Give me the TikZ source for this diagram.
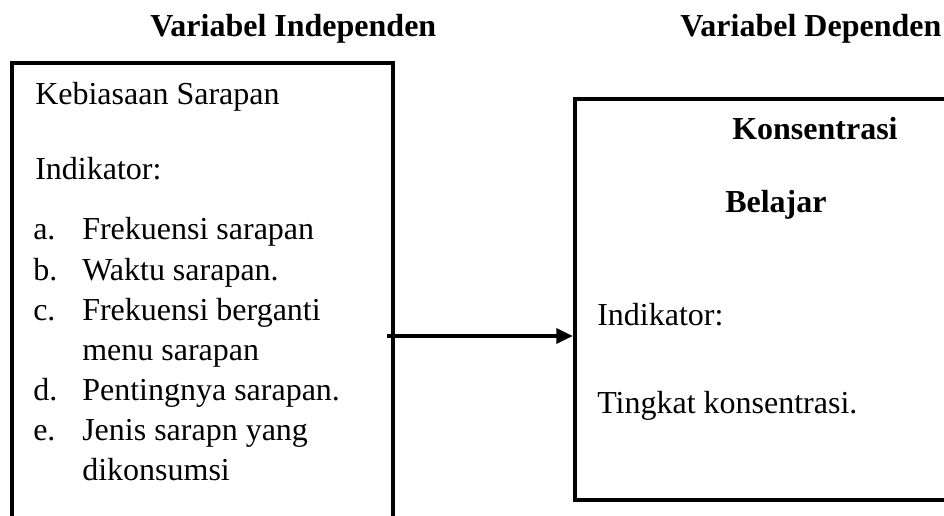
\documentclass[tikz,border=0pt]{standalone}
\usepackage{fontspec}
\setmainfont{Liberation Serif}
\usetikzlibrary{arrows.meta, positioning}
\tikzset{
  txt/.style    = {anchor=base west, inner sep=0pt, font=\fontsize{24}{30}\selectfont},
  hd/.style     = {txt, font=\fontsize{24}{30}\selectfont\bfseries},
  box/.style    = {draw=black, line width=2.8pt, anchor=north west, inner sep=0pt, outer sep=0pt},
  flow/.style   = {-{Triangle[length=12.5pt, width=11pt]}, line width=3.2pt},
}

\begin{document}
\begin{tikzpicture}[x=0.75pt,y=-0.75pt]
  \useasboundingbox (0,0) rectangle (944,516);
  \clip (0,0) rectangle (944,516);
  % headings
  \node[hd] (H1) at (150,37) {Variabel Independen};
  \node[hd] (H2) at (680,37) {Variabel Dependen};
  % boxes
  \node[box, minimum width=285.75pt, minimum height=360pt] (X) at (12,63) {};
  \node[box, minimum width=290pt, minimum height=300.75pt] (Y) at (575,99) {};
  % independent variable
  \node[txt] (X0) at (35,105) {Kebiasaan Sarapan};
  \node[txt] (X1) at (35,180) {Indikator:};
  \node[txt] (La) at (33,240) {a.};
  \node[txt] (Ta) at (82,240) {Frekuensi sarapan};
  \node[txt] (Lb) at (33,280) {b.};
  \node[txt] (Tb) at (82,280) {Waktu sarapan.};
  \node[txt] (Lc) at (33,320) {c.};
  \node[txt] (Tc) at (82,320) {Frekuensi berganti};
  \node[txt] (Tc2) at (82,360) {menu sarapan};
  \node[txt] (Ld) at (33,400) {d.};
  \node[txt] (Td) at (82,400) {Pentingnya sarapan.};
  \node[txt] (Le) at (33,440) {e.};
  \node[txt] (Te) at (82,440) {Jenis sarapn yang};
  \node[txt] (Te2) at (82,480) {dikonsumsi};
  % dependent variable
  \node[hd] (Y0) at (732,140) {Konsentrasi};
  \node[hd] (Y1) at (725,213) {Belajar};
  \node[txt] (Y2) at (597,325) {Indikator:};
  \node[txt] (Y3) at (597,413) {Tingkat konsentrasi.};
  % arrow
  \coordinate (arr) at (0,336);
  \draw[flow, shorten <=-4.5pt, shorten >=1.5pt] (X.east |- arr) -- (Y.west |- arr);
\end{tikzpicture}
\end{document}
